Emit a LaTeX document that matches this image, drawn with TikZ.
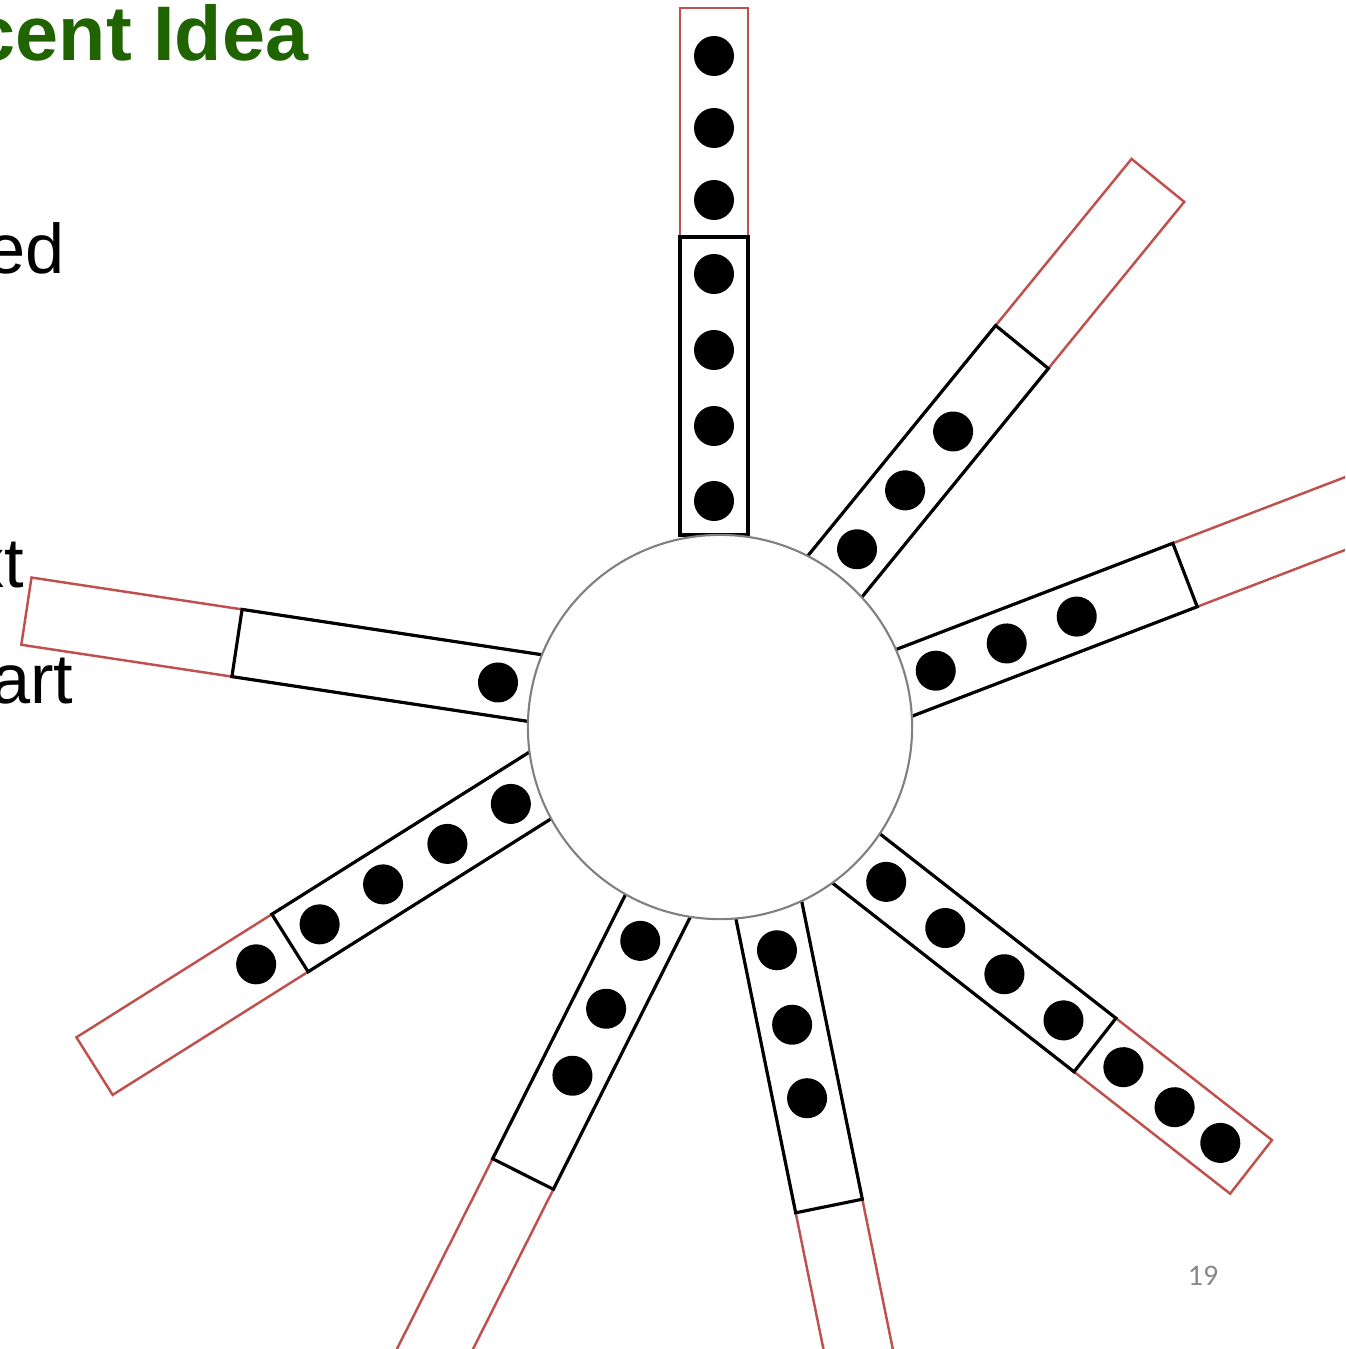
\documentclass[tikz,border=0pt]{standalone}
\usepackage{fontspec}
\setmainfont{Liberation Sans}
\newfontfamily\numfont{Carlito}
\usepackage{xcolor}
\usepackage{tikz}

\definecolor{titlegreen}{RGB}{31,100,0}
\definecolor{barred}{RGB}{192,80,77}
\definecolor{numgray}{RGB}{137,137,137}

\begin{document}
\begin{tikzpicture}[
x=0.01cm, y=-0.01cm,
redbar/.style={draw=barred, line width=0.7pt},
blackbar/.style={draw=black, line width=0.9pt},
dot/.style={fill=black},
hub/.style={circle, draw=gray, line width=0.6pt, fill=white, minimum size=3.84cm, inner sep=0pt},
body/.style={anchor=base east, inner sep=0pt, font=\fontsize{20}{24}\selectfont}
]
\useasboundingbox (0,0) rectangle (1345,1349);
\clip (0,0) rectangle (1345,1349);
% arms: end of black part, angle, inner end, red end, dots
\foreach \x/\y/\a/\si/\sr/\dl in {714/237/90/-298/229/{181,109,37,-37,-113,-189,-264},
  1022/347/50.8/-336/215/{-109,-185,-261},
  1185/575/21/-339/420/{-116,-191,-267},
  1095/1045/-38/-342/198/{-265,-190,-115,-40,36,101,159},
  829/1206/-78.5/-341/300/{-110,-185,-261},
  523/1174/243.3/-338/300/{-110,-185,-261},
  290/943/212.2/-331/231/{40,-35,-110,-186,-261},
  237/643/171.4/-340/213/{-264}}{
  \begin{scope}[shift={(\x,\y)}, rotate=\a]
    \draw[redbar] (\si,-34) rectangle (\sr,34);
    \draw[blackbar] (\si,-34) rectangle (0,34);
    \foreach \d in \dl {\fill[dot] (\d,0) circle[radius=0.2cm];}
  \end{scope}
}
\node[hub] (hub) at (720,727) {};
% slide text cut at the left edge
\node[anchor=base east, inner sep=0pt, text=titlegreen, font=\fontsize{22}{26}\selectfont\bfseries] (title) at (309,61) {cent Idea};
\node[body] (line1) at (65,274) {ed};
\node[body] (line2) at (25,587) {xt};
\node[body] (line3) at (74,703) {art};
\node[anchor=base, inner sep=0pt, text=numgray, font=\numfont\fontsize{8.5}{10}\selectfont] (pagenum) at (1203,1285) {19};
\end{tikzpicture}
\end{document}
